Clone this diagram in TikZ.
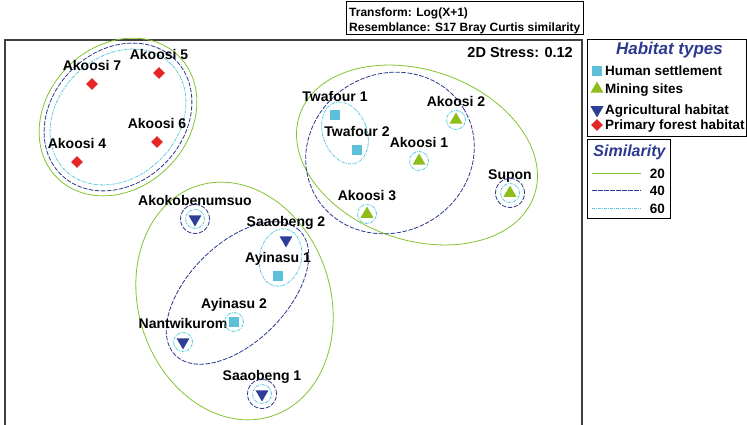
\documentclass[tikz,border=0pt]{standalone}
\usepackage{fontspec}
\setmainfont{Liberation Sans}
\usepackage{tikz}
\usetikzlibrary{shapes.geometric}
\definecolor{habC}{RGB}{92,193,216}
\definecolor{habG}{RGB}{140,189,24}
\definecolor{habB}{RGB}{44,62,150}
\definecolor{habR}{RGB}{230,38,38}
\definecolor{simG}{RGB}{130,195,50}
\definecolor{simB}{RGB}{43,57,144}
\definecolor{simC}{RGB}{90,200,225}
\tikzset{hsmark/.style={rectangle, fill=habC, inner sep=0pt, minimum size=10pt},
  minemark/.style={regular polygon, regular polygon sides=3, fill=habG, inner sep=0pt, minimum size=15pt},
  agrimark/.style={regular polygon, regular polygon sides=3, shape border rotate=180, fill=habB, inner sep=0pt, minimum size=15pt},
  formark/.style={diamond, fill=habR, inner sep=0pt, minimum size=12pt},
  sitelab/.style={anchor=base, inner sep=0pt, font=\fontsize{14}{16}\selectfont\bfseries},
  legtxt/.style={anchor=base west, inner sep=0pt, font=\fontsize{13.5}{15}\selectfont\bfseries},
  legtitle/.style={inner sep=0pt, text=simB, font=\fontsize{17}{19}\selectfont\bfseries\itshape},
  sim20/.style={simG, line width=0.8pt},
  sim40/.style={simB, line width=0.8pt, dash pattern=on 4.5pt off 1.5pt},
  sim60/.style={simC, line width=0.8pt, dash pattern=on 3pt off 1pt on 1pt off 1pt}}

\begin{document}
\begin{tikzpicture}[x=1pt, y=-1pt]
\useasboundingbox (0,0) rectangle (747,425);
% Frames: plot area, transform box, legends
\draw[black!75, line width=1.2pt] (5,425) -- (5,40) -- (582,40) -- (582,425);
\draw[line width=1pt] (346,2) rectangle (583,35);
\draw[line width=1pt] (587,40) rectangle (746,137);
\draw[line width=1pt] (587,140) rectangle (670,218);
\node[anchor=base west, inner sep=0pt, font=\fontsize{12}{14}\selectfont\bfseries] (trf) at (349,16.5) {Transform: Log(X+1)};
\node[anchor=base west, inner sep=0pt, font=\fontsize{12}{14}\selectfont\bfseries] (res) at (349,32) {Resemblance: S17 Bray Curtis similarity};
\node[anchor=base east, inner sep=0pt, font=\fontsize{14.5}{16}\selectfont\bfseries] (stress) at (573,58) {2D Stress: 0.12};
% Similarity contours (20 = solid, 40 = dashed, 60 = dash-dot)
\draw[sim20, rotate around={45:(118,117)}] (118,117) ellipse [x radius=86pt, y radius=71pt];
\draw[sim40, rotate around={45:(118,117)}] (118,117) ellipse [x radius=81pt, y radius=66pt];
\draw[sim60, rotate around={45:(118,117)}] (118,117) ellipse [x radius=75pt, y radius=60pt];
\draw[sim20, rotate around={-19:(417,155)}] (417,155) ellipse [x radius=124pt, y radius=85pt];
\draw[sim40, rotate around={30:(390,153)}] (390,153) ellipse [x radius=86pt, y radius=79pt];
\draw[sim60, rotate around={20:(345,133)}] (345,133) ellipse [x radius=22pt, y radius=32pt];
\draw[sim20, rotate around={18:(234.5,301)}] (234.5,301) ellipse [x radius=96pt, y radius=121pt];
\draw[sim40, rotate around={45:(237.5,293)}] (237.5,293) ellipse [x radius=88pt, y radius=49pt];
\draw[sim60, rotate around={-12:(280.5,257.5)}] (280.5,257.5) ellipse [x radius=21pt, y radius=29pt];
% Sites: label first, marker on top
\foreach \nm/\px/\py/\txt in {ak7/92/84/Akoosi 7, ak5/159/73/Akoosi 5, ak6/157/142/Akoosi 6, ak4/77/162/Akoosi 4}
  {\node[sitelab] (\nm-l) at (\px,{\py-13.5}) {\txt};
   \node[formark] (\nm) at (\px,\py) {};}
\foreach \nm/\px/\py/\txt in {tw1/335/115/Twafour 1, tw2/357/150/Twafour 2, ay1/278/276/Ayinasu 1, ay2/234/322/Ayinasu 2}
  {\node[sitelab] (\nm-l) at (\px,{\py-13.5}) {\txt};
   \node[hsmark] (\nm) at (\px,\py) {};}
\foreach \nm/\px/\py/\txt in {ak2/456/120/Akoosi 2, ak1/419/161/Akoosi 1, ak3/367/214/Akoosi 3, sup/510/193/Supon}
  {\node[sitelab] (\nm-l) at (\px,{\py-13.5}) {\txt};
   \node[minemark] (\nm) at (\px,\py) {};}
\foreach \nm/\px/\py/\txt in {ako/195/219/Akokobenumsuo, sa2/286/240/Saaobeng 2, nan/183/342/Nantwikurom, sa1/262/394/Saaobeng 1}
  {\node[sitelab] (\nm-l) at (\px,{\py-13.5}) {\txt};
   \node[agrimark] (\nm) at (\px,\py) {};}
% Single-site contours
\foreach \nm in {ak1,ak2,ak3,sup,ako,ay2,nan,sa1}
  \draw[sim60] (\nm) circle [radius=9.5pt];
\foreach \nm in {sup,ako,sa1}
  \draw[sim40] (\nm) circle [radius=14.5pt];
% Legend: habitat types
\node[legtitle] (hab-t) at (669.5,50) {Habitat types};
\foreach \nm/\sty/\yy/\txt in {hs/hsmark/71/Human settlement, mi/minemark/89/Mining sites, ag/agrimark/110/Agricultural habitat, fo/formark/125/Primary forest habitat}
  {\node[\sty] (lg-\nm) at (597,\yy) {};
   \node[legtxt] (lg-\nm-t) at (605,{\yy+4.8}) {\txt};}
% Legend: similarity levels
\node[legtitle, font=\fontsize{16}{18}\selectfont\bfseries\itshape] (sim-t) at (629.5,152) {Similarity};
\foreach \lev/\sty/\yy in {20/sim20/173.5, 40/sim40/190.5, 60/sim60/208.5}
  {\draw[\sty] (592,\yy) -- (641,\yy);
   \node[legtxt, anchor=base east] (sim\lev) at (665,{\yy+4.8}) {\lev};}
\end{tikzpicture}
\end{document}
